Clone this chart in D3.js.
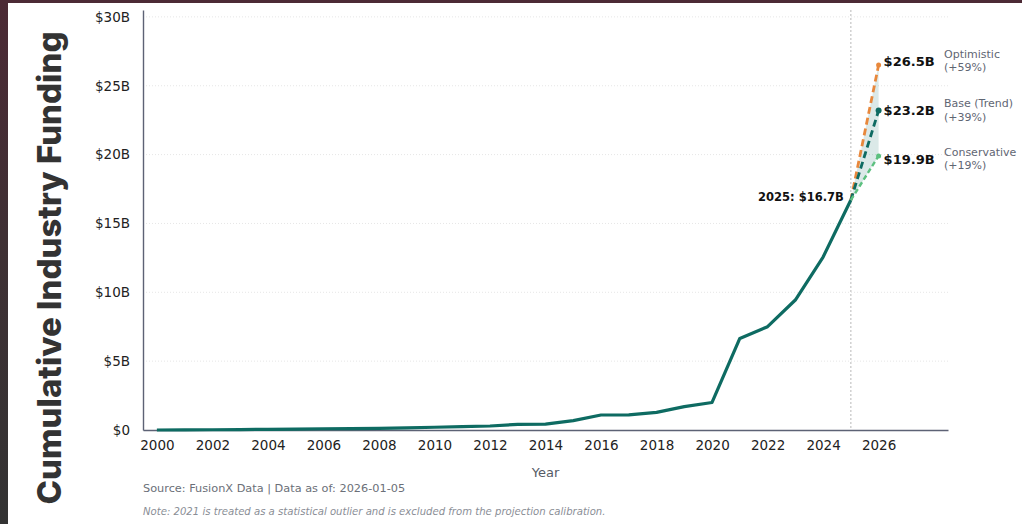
<!DOCTYPE html>
<html>
<head>
<meta charset="utf-8">
<script src="https://cdn.jsdelivr.net/npm/d3@7"></script>
<style>
  html, body { margin: 0; padding: 0; background: #fff; }
  body { width: 1022px; height: 524px; overflow: hidden; }
</style>
</head>
<body>
<div id="chart"></div>
<script>
// cumulative funding, $B
const years = [2000, 2001, 2002, 2003, 2004, 2005, 2006, 2007, 2008, 2009, 2010, 2011, 2012,
               2013, 2014, 2015, 2016, 2017, 2018, 2019, 2020, 2021, 2022, 2023, 2024, 2025];
const funding = [0.0, 0.01, 0.02, 0.03, 0.05, 0.07, 0.09, 0.1, 0.12, 0.15, 0.2, 0.24, 0.29,
                 0.41, 0.43, 0.68, 1.09, 1.1, 1.28, 1.7, 2.0, 6.65, 7.5, 9.44, 12.56, 16.7];

const scenarioNames = ["Optimistic", "Base (Trend)", "Conservative"];
const scenarioValues = [26.5, 23.2, 19.9];
const scenarioPct = ["+59%", "+39%", "+19%"];
const scenarioColors = ["#e8883c", "#0e6b62", "#5cc07f"];

const yTicks = [0, 5, 10, 15, 20, 25, 30];
const xTicks = [2000, 2002, 2004, 2006, 2008, 2010, 2012, 2014, 2016, 2018, 2020, 2022, 2024, 2026];

const width = 1022, height = 524;
const margin = {top: 10, right: 74, bottom: 94, left: 143};

const svg = d3.select("#chart").append("svg")
    .attr("width", width)
    .attr("height", height)
    .style("font-family", "'DejaVu Sans', sans-serif");

// frame strips
const grad = svg.append("defs").append("linearGradient")
    .attr("id", "strip").attr("x1", 0).attr("y1", 0).attr("x2", 0).attr("y2", 1);
grad.append("stop").attr("offset", "0%").attr("stop-color", "#4c2a35");
grad.append("stop").attr("offset", "45%").attr("stop-color", "#3f3034");
grad.append("stop").attr("offset", "100%").attr("stop-color", "#333333");
svg.append("rect").attr("x", 0).attr("y", 0).attr("width", 8).attr("height", height).attr("fill", "url(#strip)");
svg.append("rect").attr("x", 0).attr("y", 0).attr("width", width).attr("height", 3).attr("fill", "#4c2a35");

const x = d3.scaleLinear().domain([1999.5, 2028.5]).range([margin.left, width - margin.right]);
const y = d3.scaleLinear().domain([0, 30.5]).range([height - margin.bottom, margin.top]);

// gridlines
svg.append("g").selectAll("line")
    .data(yTicks.filter(d => d > 0))
    .join("line")
    .attr("x1", x.range()[0])
    .attr("x2", x.range()[1])
    .attr("y1", d => y(d))
    .attr("y2", d => y(d))
    .attr("stroke", "#e6e6e6")
    .attr("stroke-width", 1)
    .attr("stroke-dasharray", "1,2");

// 2025 marker
svg.append("line")
    .attr("x1", x(2025)).attr("x2", x(2025))
    .attr("y1", margin.top).attr("y2", y(0))
    .attr("stroke", "#c4c4c4")
    .attr("stroke-width", 1.2)
    .attr("stroke-dasharray", "2,2");

// axes
const yAxis = svg.append("g")
    .attr("transform", `translate(${margin.left},0)`)
    .call(d3.axisLeft(y).tickValues(yTicks).tickSize(0).tickPadding(13)
        .tickFormat(d => d === 0 ? "$0" : "$" + d + "B"));
const xAxis = svg.append("g")
    .attr("transform", `translate(0,${y(0)})`)
    .call(d3.axisBottom(x).tickValues(xTicks).tickSize(0).tickPadding(10).tickFormat(d3.format("d")));
[yAxis, xAxis].forEach(a => {
    a.select(".domain").attr("stroke", "#5d6275").attr("stroke-width", 1.4);
    a.selectAll("text").attr("font-size", 13.5).attr("fill", "#222").attr("font-family", "'DejaVu Sans', sans-serif");
});

// shaded range between conservative and optimistic
const lo = scenarioValues[2], hi = scenarioValues[0];
const last = funding[funding.length - 1];
svg.append("path")
    .datum([[2025, last, last], [2026, lo, hi]])
    .attr("d", d3.area().x(d => x(d[0])).y0(d => y(d[1])).y1(d => y(d[2])))
    .attr("fill", "#0e6b62")
    .attr("opacity", 0.15);

// history line
svg.append("path")
    .datum(years.map((yr, i) => [yr, funding[i]]))
    .attr("d", d3.line().x(d => x(d[0])).y(d => y(d[1])))
    .attr("fill", "none")
    .attr("stroke", "#0e6b62")
    .attr("stroke-width", 3.2)
    .attr("stroke-linejoin", "round");

// projections
const labelShift = [-4, 0, 3];
scenarioNames.forEach((name, i) => {
    svg.append("line")
        .attr("x1", x(2025)).attr("y1", y(last))
        .attr("x2", x(2026)).attr("y2", y(scenarioValues[i]))
        .attr("stroke", scenarioColors[i])
        .attr("stroke-width", i === 2 ? 2.4 : 2.8)
        .attr("stroke-dasharray", i === 2 ? "5,3" : "7,4");
    svg.append("circle")
        .attr("cx", x(2026)).attr("cy", y(scenarioValues[i]))
        .attr("r", i === 1 ? 3 : 2.5)
        .attr("fill", scenarioColors[i]);
    const ly = y(scenarioValues[i]) + labelShift[i];
    svg.append("text")
        .attr("x", x(2026) + 5).attr("y", ly)
        .attr("dy", "0.35em")
        .attr("font-size", 13)
        .attr("font-weight", "bold")
        .attr("fill", "#111")
        .text("$" + scenarioValues[i].toFixed(1) + "B");
    const t = svg.append("text")
        .attr("x", 944).attr("y", ly - 7)
        .attr("font-size", 11)
        .attr("fill", "#5f6673");
    t.append("tspan").attr("x", 944).attr("dy", "0.35em").text(name);
    t.append("tspan").attr("x", 944).attr("dy", 13.5).text("(" + scenarioPct[i] + ")");
});

svg.append("text")
    .attr("x", x(2025) - 7).attr("y", y(last))
    .attr("dy", "0.1em")
    .attr("text-anchor", "end")
    .attr("font-size", 11.5)
    .attr("font-weight", "bold")
    .attr("fill", "#111")
    .text("2025: $" + last.toFixed(1) + "B");

// titles and notes
svg.append("text")
    .attr("transform", `translate(61,${268}) rotate(-90)`)
    .attr("text-anchor", "middle")
    .attr("font-family", "Inter")
    .attr("font-weight", 800)
    .attr("font-size", 33)
    .attr("fill", "#333")
    .text("Cumulative Industry Funding");

svg.append("text")
    .attr("x", (x.range()[0] + x.range()[1]) / 2).attr("y", 477)
    .attr("text-anchor", "middle")
    .attr("font-size", 13)
    .attr("fill", "#555b66")
    .text("Year");

svg.append("text")
    .attr("x", margin.left).attr("y", 492)
    .attr("font-size", 11.3)
    .attr("fill", "#6b6f78")
    .text("Source: FusionX Data | Data as of: 2026-01-05");

svg.append("text")
    .attr("x", margin.left).attr("y", 515)
    .attr("font-size", 10.1)
    .attr("font-style", "italic")
    .attr("fill", "#8a8e96")
    .text("Note: 2021 is treated as a statistical outlier and is excluded from the projection calibration.");
</script>
</body>
</html>
